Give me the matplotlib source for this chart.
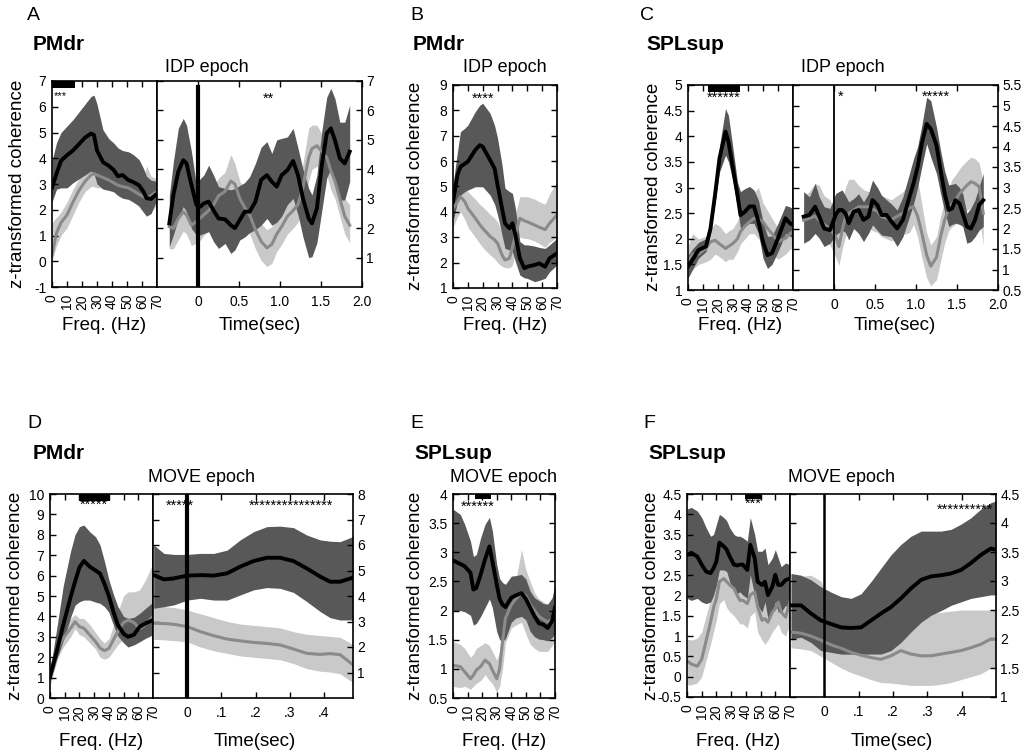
import matplotlib
matplotlib.use('Agg')
import matplotlib.pyplot as plt

plt.rcParams['font.family'] = ['Liberation Sans', 'DejaVu Sans']

DARK = '#585858'
LIGHT = '#c9c9c9'
GRAYLINE = '#8a8a8a'

# ---------------- Panel A (PMdr, IDP epoch) ----------------
A_f_hz = [0, 3, 6, 10, 14, 18, 22, 26, 28, 30, 34, 38, 41, 44, 47, 51, 54, 58, 61, 63, 66, 70]
A_f_black = [2.85, 3.4, 3.9, 4.12, 4.3, 4.55, 4.8, 4.96, 4.9, 4.3, 3.85, 3.7, 3.55, 3.3, 3.35, 3.15, 3.08, 2.95, 2.7, 2.45, 2.42, 2.62]
A_f_dhi = [3.9, 4.6, 5.0, 5.25, 5.5, 5.8, 6.1, 6.4, 6.45, 6.1, 5.1, 4.75, 4.6, 4.4, 4.3, 4.25, 4.15, 3.95, 3.6, 3.3, 3.15, 3.1]
A_f_dlo = [2.3, 2.8, 2.85, 2.85, 3.05, 3.2, 3.35, 3.5, 3.4, 3.0, 2.8, 2.75, 2.7, 2.55, 2.45, 2.4, 2.3, 2.15, 1.9, 1.75, 1.85, 2.4]
A_f_gray = [0.25, 1.1, 1.5, 1.8, 2.3, 2.75, 3.1, 3.35, 3.4, 3.35, 3.25, 3.15, 3.05, 2.95, 2.9, 2.85, 2.75, 2.6, 2.5, 2.45, 2.55, 2.7]
A_f_lhi = [1.5, 1.7, 1.9, 2.3, 2.8, 3.2, 3.5, 3.7, 3.7, 3.6, 3.5, 3.4, 3.3, 3.2, 3.15, 3.1, 3.05, 2.95, 3.2, 3.7, 3.3, 3.2]
A_f_llo = [0.0, 0.6, 1.0, 1.3, 1.8, 2.3, 2.7, 2.9, 2.9, 2.85, 2.85, 2.8, 2.75, 2.6, 2.5, 2.45, 2.35, 2.1, 1.9, 1.8, 1.9, 2.2]

A_t = [-0.35, -0.30, -0.24, -0.18, -0.14, -0.08, -0.02, 0.03, 0.07, 0.13, 0.19, 0.25, 0.33, 0.40, 0.45, 0.51, 0.57,
       0.63, 0.70, 0.77, 0.84, 0.90, 0.96, 1.02, 1.09, 1.16, 1.22, 1.28, 1.35, 1.39, 1.45, 1.51, 1.57, 1.62, 1.67,
       1.73, 1.79, 1.85]
A_t_black = [2.16, 3.13, 3.92, 4.31, 4.2, 3.47, 2.79, 2.73, 2.84, 2.9, 2.6, 2.33, 2.3, 2.1, 2.0, 2.28, 2.56, 2.56,
             2.9, 3.64, 3.8, 3.58, 3.41, 3.8, 3.97, 4.28, 3.8, 3.01, 2.33, 2.16, 2.67, 4.14, 5.22, 5.39, 4.99, 4.37,
             4.2, 4.6]
A_t_dhi = [3.1, 4.26, 5.39, 5.73, 5.5, 4.6, 3.47, 3.69, 3.8, 4.14, 3.8, 3.41, 3.35, 3.3, 3.35, 3.45, 3.55, 3.75,
           4.2, 4.75, 4.94, 4.54, 5.0, 5.05, 5.1, 5.39, 4.71, 4.0, 3.35, 3.13, 3.8, 5.3, 6.45, 6.75, 6.4, 5.6, 5.6,
           6.18]
A_t_dlo = [1.37, 1.77, 2.33, 2.73, 2.56, 1.99, 1.77, 1.77, 1.82, 1.88, 1.54, 1.31, 1.48, 1.14, 1.26, 1.6, 1.7,
           1.85, 1.95, 2.1, 2.33, 2.1, 2.2, 2.4, 2.8, 3.01, 2.45, 1.7, 1.0, 1.03, 1.5, 2.6, 3.7, 4.03, 3.5, 2.95,
           2.96, 3.58]
A_t_gray = [2.05, 1.99, 2.33, 2.56, 2.45, 2.1, 2.22, 2.35, 2.45, 2.6, 2.8, 3.1, 3.25, 3.6, 3.5, 3.0, 2.7, 2.45,
            1.95, 1.55, 1.33, 1.45, 1.8, 2.05, 2.4, 2.6, 2.8, 3.4, 4.4, 4.7, 4.8, 4.6, 4.4, 3.95, 3.6, 3.0, 2.4, 2.1]
A_t_lhi = [2.7, 2.6, 2.9, 3.15, 3.0, 2.7, 2.8, 2.95, 3.05, 3.2, 3.4, 3.7, 3.9, 4.5, 4.2, 3.6, 3.3, 3.05, 2.55,
           2.15, 1.95, 2.05, 2.4, 2.65, 3.0, 3.2, 3.4, 4.2, 5.4, 5.5, 5.5, 5.2, 5.0, 4.6, 4.2, 3.6, 3.0, 2.8]
A_t_llo = [1.3, 1.3, 1.6, 1.9, 1.8, 1.4, 1.5, 1.6, 1.75, 1.9, 2.1, 2.4, 2.55, 2.9, 2.8, 2.4, 2.1, 1.8, 1.3, 0.9,
           0.7, 0.8, 1.2, 1.45, 1.8, 2.0, 2.2, 2.7, 3.6, 4.0, 4.1, 4.0, 3.8, 3.3, 3.0, 2.4, 1.8, 1.5]

# ---------------- Panel B (PMdr, IDP epoch) ----------------
B_hz = [0, 3, 5, 8, 10, 15, 18, 20, 25, 28, 30, 33, 35, 38, 40, 42, 45, 48, 50, 55, 58, 62, 65, 70]
B_black = [4.4, 5.45, 5.78, 5.9, 5.98, 6.44, 6.63, 6.57, 6.04, 5.71, 5.06, 4.14, 3.55, 3.35, 3.55, 3.09, 2.17,
           1.78, 1.84, 1.91, 1.97, 1.84, 2.17, 2.37]
B_dhi = [5.06, 6.37, 7.16, 7.3, 7.42, 7.95, 8.2, 8.28, 7.88, 7.4, 6.9, 5.85, 4.93, 4.8, 4.73, 4.14, 2.83, 2.7,
         2.7, 2.65, 2.6, 2.56, 2.7, 2.96]
B_dlo = [3.61, 4.4, 4.66, 4.8, 4.86, 4.99, 4.99, 4.99, 4.66, 4.3, 3.88, 3.09, 2.56, 2.5, 2.43, 2.04, 1.51, 1.4,
         1.38, 1.25, 1.3, 1.38, 1.64, 1.91]
B_gray = [4.14, 4.4, 4.6, 4.4, 4.14, 3.75, 3.5, 3.35, 3.03, 2.9, 2.76, 2.3, 2.1, 2.17, 2.6, 3.1, 3.75, 3.65,
          3.61, 3.48, 3.4, 3.3, 3.55, 3.88]
B_lhi = [4.8, 4.95, 5.0, 4.9, 4.8, 4.5, 4.3, 4.2, 3.9, 3.75, 3.6, 3.2, 3.0, 3.0, 3.4, 3.9, 4.6, 4.6, 4.6, 4.5,
         4.4, 4.3, 4.7, 5.2]
B_llo = [3.4, 3.8, 4.0, 3.7, 3.4, 3.0, 2.75, 2.6, 2.3, 2.15, 2.0, 1.85, 1.8, 1.8, 1.9, 2.4, 3.0, 2.95, 2.95,
         2.85, 2.75, 2.6, 2.8, 3.0]

# ---------------- Panel C (SPLsup, IDP epoch) ----------------
C_f_hz = [0, 3, 7, 12, 15, 18, 21, 25, 27, 30, 33, 35, 38, 41, 44, 47, 50, 53, 56, 60, 65, 68, 70]
C_f_black = [1.46, 1.59, 1.78, 1.85, 2.2, 2.85, 3.57, 4.09, 3.89, 3.37, 2.85, 2.46, 2.53, 2.63, 2.63, 2.33, 1.94,
             1.68, 1.72, 2.01, 2.4, 2.3, 2.27]
C_f_dhi = [1.68, 1.8, 1.93, 2.0, 2.33, 3.0, 3.8, 4.54, 4.4, 3.76, 3.1, 2.92, 2.98, 3.02, 2.95, 2.75, 2.33, 2.05,
           2.05, 2.3, 2.65, 2.62, 2.59]
C_f_dlo = [1.23, 1.4, 1.62, 1.75, 2.11, 2.7, 3.3, 3.63, 3.5, 3.11, 2.6, 2.2, 2.25, 2.3, 2.3, 2.1, 1.62, 1.42, 1.5,
           1.75, 2.1, 2.05, 2.01]
C_f_gray = [1.55, 1.7, 1.7, 1.81, 1.94, 1.97, 1.9, 1.81, 1.85, 1.91, 2.0, 2.14, 2.25, 2.33, 2.4, 2.38, 2.33, 2.2,
            2.1, 1.94, 2.01, 2.1, 2.14]
C_f_lhi = [1.85, 2.1, 2.0, 2.05, 2.2, 2.3, 2.25, 2.1, 2.15, 2.2, 2.35, 2.5, 2.6, 2.7, 2.9, 3.0, 2.7, 2.55, 2.4,
           2.2, 2.4, 2.55, 2.6]
C_f_llo = [1.3, 1.4, 1.5, 1.55, 1.6, 1.7, 1.65, 1.55, 1.6, 1.6, 1.75, 1.9, 2.0, 2.1, 2.1, 2.0, 1.9, 1.8, 1.7, 1.6,
           1.7, 1.8, 1.8]

C_t = [-0.37, -0.30, -0.23, -0.18, -0.12, -0.05, 0.02, 0.06, 0.10, 0.14, 0.18, 0.24, 0.30, 0.36, 0.42, 0.47, 0.53,
       0.58, 0.64, 0.70, 0.77, 0.84, 0.92, 0.97, 1.02, 1.07, 1.13, 1.18, 1.25, 1.30, 1.35, 1.40, 1.44, 1.48, 1.53,
       1.57, 1.62, 1.67, 1.72, 1.77, 1.82]
C_t_black = [2.29, 2.33, 2.53, 2.29, 2.0, 1.96, 2.33, 2.45, 2.45, 2.37, 2.13, 2.41, 2.45, 2.21, 2.29, 2.69, 2.57,
             2.33, 2.33, 2.17, 2.0, 2.21, 2.77, 3.1, 3.5, 4.07, 4.55, 4.43, 4.03, 3.42, 2.85, 2.45, 2.49, 2.69,
             2.61, 2.37, 2.05, 2.0, 2.21, 2.57, 2.69]
C_t_dhi = [2.9, 2.77, 3.1, 2.77, 2.53, 2.49, 2.85, 2.9, 2.94, 2.8, 2.65, 2.73, 2.85, 2.65, 2.85, 3.18, 3.0, 2.81,
           2.7, 2.6, 2.45, 2.77, 3.34, 3.7, 4.0, 4.5, 5.2, 5.12, 4.47, 3.9, 3.4, 3.06, 3.08, 3.1, 3.0, 2.85, 2.37,
           2.5, 2.7, 3.02, 3.34]
C_t_dlo = [1.64, 1.72, 1.88, 1.76, 1.56, 1.64, 1.84, 1.9, 1.96, 1.9, 1.72, 2.0, 1.88, 1.68, 1.88, 2.09, 1.95, 1.84,
           1.82, 1.8, 1.56, 1.8, 2.29, 2.6, 3.0, 3.5, 4.07, 3.74, 3.34, 2.85, 2.4, 2.05, 2.1, 2.13, 2.1, 2.05, 1.64,
           1.68, 1.8, 1.96, 2.05]
C_t_gray = [2.2, 2.25, 2.3, 2.2, 2.1, 2.0, 1.8, 1.56, 1.96, 2.29, 2.37, 2.45, 2.53, 2.53, 2.53, 2.47, 2.42, 2.29,
            2.25, 2.21, 2.3, 2.37, 2.5, 2.53, 2.3, 1.9, 1.35, 1.08, 1.3, 1.8, 2.21, 2.49, 2.6, 2.69, 2.85, 2.94,
            3.05, 3.14, 3.1, 3.02, 2.37]
C_t_lhi = [2.8, 2.9, 3.1, 3.05, 2.8, 2.7, 2.4, 2.2, 2.6, 3.0, 3.2, 3.2, 3.05, 2.95, 2.9, 2.9, 2.85, 2.8, 2.75,
           2.7, 2.8, 2.9, 3.1, 3.5, 3.2, 2.6, 1.9, 1.6, 1.8, 2.3, 2.7, 3.0, 3.2, 3.3, 3.45, 3.55, 3.65, 3.74, 3.7,
           3.6, 3.1]
C_t_llo = [1.7, 1.75, 1.9, 1.8, 1.7, 1.6, 1.3, 1.1, 1.5, 1.8, 1.95, 2.0, 2.0, 2.0, 2.0, 1.95, 1.9, 1.8, 1.75,
           1.7, 1.75, 1.85, 1.9, 2.1, 1.8, 1.3, 0.8, 0.6, 0.75, 1.2, 1.65, 1.95, 2.05, 2.1, 2.25, 2.35, 2.45, 2.5,
           2.45, 2.3, 1.6]

# ---------------- Panel D (PMdr, MOVE epoch) ----------------
D_f_hz = [0, 5, 9, 14, 17, 20, 23, 27, 31, 34, 37, 40, 43, 46, 50, 53, 57, 61, 65, 70]
D_f_black = [1.05, 2.4, 3.58, 4.95, 5.7, 6.4, 6.72, 6.44, 6.25, 6.1, 5.6, 5.0, 4.25, 3.6, 3.15, 3.0, 3.1, 3.5,
             3.66, 3.82]
D_f_dhi = [1.3, 3.6, 5.5, 7.2, 8.0, 8.4, 8.48, 8.15, 7.9, 7.5, 6.7, 5.8, 5.1, 4.5, 4.0, 3.9, 3.95, 4.15, 4.4, 4.7]
D_f_dlo = [0.8, 2.0, 2.8, 3.95, 4.55, 4.72, 4.8, 4.8, 4.7, 4.64, 4.48, 4.2, 3.6, 3.05, 2.7, 2.5, 2.6, 2.76, 2.93,
           3.1]
D_f_gray = [1.13, 2.35, 2.93, 3.42, 3.74, 3.5, 3.42, 3.09, 2.76, 2.45, 2.32, 2.43, 2.84, 3.25, 3.7, 3.82, 3.7,
            3.4, 3.6, 4.0]
D_f_lhi = [1.7, 2.8, 3.3, 3.9, 4.1, 3.9, 3.9, 3.6, 3.2, 2.9, 2.7, 2.9, 3.5, 4.2, 5.0, 5.2, 5.2, 5.3, 5.8, 6.6]
D_f_llo = [0.6, 1.9, 2.5, 3.0, 3.4, 3.1, 3.0, 2.7, 2.4, 2.0, 1.9, 2.0, 2.3, 2.6, 2.9, 3.0, 3.1, 3.0, 3.2, 3.5]

D_t = [-0.098, -0.068, -0.039, 0.0, 0.039, 0.078, 0.117, 0.155, 0.194, 0.233, 0.272, 0.311, 0.35, 0.389, 0.418,
       0.447, 0.485]
D_t_black = [4.82, 4.65, 4.69, 4.8, 4.82, 4.8, 4.89, 5.15, 5.37, 5.5, 5.5, 5.37, 5.08, 4.76, 4.56, 4.56, 4.72]
D_t_dhi = [6.0, 5.67, 5.63, 5.63, 5.67, 5.67, 5.8, 6.2, 6.52, 6.72, 6.74, 6.68, 6.39, 6.2, 6.15, 6.13, 6.33]
D_t_dlo = [3.52, 3.58, 3.65, 3.84, 3.91, 3.84, 3.84, 4.04, 4.24, 4.33, 4.3, 4.14, 3.78, 3.39, 3.15, 3.06, 3.06]
D_t_gray = [2.93, 2.92, 2.89, 2.8, 2.6, 2.44, 2.31, 2.24, 2.18, 2.14, 2.08, 1.92, 1.75, 1.71, 1.74, 1.7, 1.3]
D_t_lhi = [3.6, 3.58, 3.55, 3.45, 3.3, 3.15, 3.0, 2.9, 2.85, 2.8, 2.75, 2.6, 2.5, 2.45, 2.42, 2.38, 2.1]
D_t_llo = [2.3, 2.28, 2.25, 2.2, 2.0, 1.85, 1.75, 1.65, 1.6, 1.55, 1.5, 1.35, 1.15, 1.05, 1.02, 0.95, 0.6]

# ---------------- Panel E (SPLsup, MOVE epoch) ----------------
E_hz = [0, 5, 8, 12, 14, 16, 19, 22, 25, 27, 30, 32, 34, 36, 40, 43, 47, 50, 53, 56, 59, 62, 65, 68, 70]
E_black = [2.86, 2.8, 2.76, 2.65, 2.36, 2.39, 2.62, 2.88, 3.1, 2.85, 2.45, 2.2, 2.1, 2.06, 2.22, 2.26, 2.3, 2.2,
           2.05, 1.9, 1.78, 1.76, 1.7, 1.82, 2.05]
E_dhi = [3.74, 3.65, 3.48, 3.19, 2.93, 2.96, 3.25, 3.48, 3.6, 3.37, 2.79, 2.55, 2.48, 2.45, 2.59, 2.6, 2.62, 2.54,
         2.33, 2.22, 2.17, 2.12, 2.11, 2.22, 2.45]
E_dlo = [2.0, 2.0, 1.98, 1.92, 1.75, 1.78, 1.9, 2.05, 2.2, 2.05, 1.64, 1.5, 1.47, 1.52, 1.8, 1.87, 1.9, 1.84,
         1.64, 1.55, 1.51, 1.5, 1.48, 1.54, 1.6]
E_gray = [1.06, 1.04, 0.95, 0.83, 0.89, 0.98, 1.04, 1.15, 1.09, 0.98, 0.83, 1.0, 1.47, 1.87, 2.1, 2.2, 2.3, 2.25,
          2.1, 2.0, 1.9, 1.85, 1.8, 1.85, 1.95]
E_lhi = [1.47, 1.42, 1.35, 1.2, 1.25, 1.35, 1.4, 1.45, 1.4, 1.3, 1.15, 1.3, 1.9, 2.25, 2.4, 2.5, 3.05, 2.7, 2.5,
         2.3, 2.2, 2.15, 2.1, 2.2, 2.4]
E_llo = [0.7, 0.68, 0.7, 0.65, 0.7, 0.75, 0.8, 0.9, 0.8, 0.75, 0.6, 0.7, 1.0, 1.45, 1.7, 1.75, 1.8, 1.6, 1.42,
         1.35, 1.3, 1.3, 1.3, 1.4, 1.5]

# ---------------- Panel F (SPLsup, MOVE epoch) ----------------
F_f_hz = [0, 3, 7, 10, 13, 16, 18, 20, 22, 25, 27, 29, 32, 34, 36, 38, 41, 43, 46, 48, 51, 53, 55, 58, 60, 62, 64,
          67, 70]
F_f_black = [3.0, 3.05, 2.96, 2.76, 2.59, 2.55, 2.67, 2.84, 3.3, 3.21, 3.13, 2.96, 2.76, 2.74, 2.76, 2.76, 2.63,
             3.25, 2.92, 2.34, 2.26, 2.34, 2.01, 2.22, 2.51, 2.26, 2.26, 2.38, 2.42]
F_f_dhi = [4.13, 4.17, 4.08, 3.92, 3.67, 3.46, 3.5, 3.75, 4.0, 3.92, 3.84, 3.67, 3.5, 3.46, 3.46, 3.42, 3.34, 3.92,
           3.5, 3.09, 3.09, 3.17, 2.76, 2.92, 3.13, 2.92, 2.71, 2.8, 2.76]
F_f_dlo = [1.93, 1.88, 1.93, 1.84, 1.8, 1.84, 2.0, 2.26, 2.63, 2.63, 2.59, 2.34, 2.09, 2.05, 2.09, 2.01, 1.93,
           2.51, 2.01, 1.76, 1.59, 1.84, 1.43, 1.59, 1.84, 1.59, 1.59, 1.76, 1.59]
F_f_gray = [0.39, 0.31, 0.26, 0.43, 0.89, 1.34, 1.7, 1.93, 2.34, 2.42, 2.34, 2.26, 2.17, 2.01, 1.88, 1.88, 1.8,
            2.01, 2.09, 1.72, 1.39, 1.43, 1.34, 1.59, 1.68, 1.84, 1.59, 1.47, 1.84]
F_f_lhi = [0.93, 0.9, 0.95, 1.1, 1.5, 1.9, 2.2, 2.4, 2.8, 2.9, 2.8, 2.7, 2.6, 2.5, 2.4, 2.3, 2.3, 2.5, 2.4, 2.2,
           1.9, 1.85, 1.8, 2.0, 2.1, 2.3, 2.0, 1.9, 2.3]
F_f_llo = [-0.2, -0.2, -0.15, 0.0, 0.4, 0.8, 1.1, 1.4, 1.8, 1.9, 1.7, 1.6, 1.5, 1.4, 1.3, 1.3, 1.2, 1.5, 1.6, 1.1,
           0.9, 0.8, 0.9, 1.1, 1.2, 1.3, 1.1, 1.0, 1.3]

F_t = [-0.097, -0.068, -0.039, -0.01, 0.019, 0.049, 0.078, 0.107, 0.136, 0.165, 0.194, 0.223, 0.252, 0.282, 0.311,
       0.34, 0.369, 0.398, 0.427, 0.456, 0.485, 0.5]
F_t_black = [2.58, 2.58, 2.44, 2.32, 2.26, 2.2, 2.19, 2.2, 2.32, 2.44, 2.55, 2.7, 2.87, 3.02, 3.08, 3.1, 3.13,
             3.19, 3.31, 3.45, 3.56, 3.54]
F_t_dhi = [3.13, 3.1, 3.02, 2.9, 2.81, 2.73, 2.7, 2.78, 2.99, 3.22, 3.45, 3.63, 3.77, 3.86, 3.86, 3.86, 3.89, 3.98,
           4.09, 4.24, 4.35, 4.38]
F_t_dlo = [2.0, 2.03, 1.94, 1.8, 1.77, 1.74, 1.74, 1.74, 1.74, 1.74, 1.8, 1.94, 2.12, 2.29, 2.41, 2.49, 2.58, 2.64,
           2.7, 2.73, 2.76, 2.76]
F_t_gray = [2.12, 2.1, 2.05, 1.98, 1.9, 1.84, 1.77, 1.72, 1.68, 1.65, 1.71, 1.8, 1.74, 1.71, 1.71, 1.74, 1.77,
            1.8, 1.85, 1.91, 2.0, 2.0]
F_t_lhi = [3.1, 3.08, 3.1, 3.0, 2.6, 2.42, 2.36, 2.3, 2.25, 2.2, 2.2, 2.3, 2.38, 2.42, 2.44, 2.46, 2.48, 2.5, 2.5,
           2.5, 2.5, 2.5]
F_t_llo = [1.85, 1.83, 1.8, 1.7, 1.6, 1.5, 1.42, 1.36, 1.3, 1.25, 1.24, 1.22, 1.2, 1.2, 1.2, 1.22, 1.25, 1.3, 1.35,
           1.4, 1.5, 1.5]

# significance bars (x range)
sig_bars = {'A': (0, 15.5), 'C': (13.5, 34.5), 'D': (20, 40.5), 'E': (15, 26), 'F': (39.5, 50.5)}

# ------------------------------------------------------------------
W, H = 1024, 751
fig = plt.figure(figsize=(W / 100, H / 100), dpi=100)


def rect(x0, y0, x1, y1):
    return [x0 / W, 1 - y1 / H, (x1 - x0) / W, (y1 - y0) / H]


def draw(ax, x, blk, dhi, dlo, gr, lhi, llo):
    ax.fill_between(x, llo, lhi, color=LIGHT, lw=0)
    ax.plot(x, gr, color=GRAYLINE, lw=2.2, solid_joinstyle='round')
    ax.fill_between(x, dlo, dhi, color=DARK, lw=0)
    ax.plot(x, blk, color='k', lw=2.8, solid_joinstyle='round')


def style(ax):
    for s in ax.spines.values():
        s.set_linewidth(1.2)
    ax.tick_params(direction='in', length=4, width=1, labelsize=10, pad=3)


def freq_axis(r, ylim, yticks, ylabels, standalone):
    ax = fig.add_axes(rect(*r))
    ax.set_xlim(0, 70)
    ax.set_ylim(*ylim)
    ax.set_xticks(range(0, 71, 10))
    ax.set_xticklabels([str(v) for v in range(0, 71, 10)], rotation=90)
    ax.set_yticks(yticks)
    ax.set_yticklabels(ylabels)
    style(ax)
    ax.tick_params(top=True, right=standalone)
    ax.tick_params(axis='x', pad=5)
    ax.tick_params(axis='y', pad=4)
    return ax


def time_axis(r, xlim, xticks, xlabels, ylim, yticks, ylabels):
    ax = fig.add_axes(rect(*r))
    ax.set_xlim(*xlim)
    ax.set_ylim(*ylim)
    ax.set_xticks(xticks)
    ax.set_xticklabels(xlabels)
    ax.set_yticks(yticks)
    ax.set_yticklabels(ylabels)
    style(ax)
    ax.tick_params(top=True, left=True, right=True, labelleft=False, labelright=True)
    ax.tick_params(axis='x', pad=6)
    return ax


def fmt(v):
    return ('%g' % v)


def sigbar(ax, key, ytop, h):
    x0, x1 = sig_bars[key]
    ax.fill_between([x0, x1], [ytop - h] * 2, [ytop] * 2, color='k', lw=0, zorder=5)


def stars(ax, x, y, s, fs=10.5):
    ax.text(x, y, s, ha='center', va='center', fontsize=fs, zorder=6)


def ftext(x, y, s, **kw):
    fig.text(x / W, 1 - y / H, s, **kw)


# ---- A ----
axA = freq_axis((52, 81, 157, 287), (-1, 7), range(-1, 8), [str(v) for v in range(-1, 8)], False)
draw(axA, A_f_hz, A_f_black, A_f_dhi, A_f_dlo, A_f_gray, A_f_lhi, A_f_llo)
sigbar(axA, 'A', 7, 0.28)
stars(axA, 5.5, 6.42, '***', 8)
axAt = time_axis((157, 81, 362, 287), (-0.5, 2.0), [0, 0.5, 1.0, 1.5, 2.0], ['0', '0.5', '1.0', '1.5', '2.0'],
                 (0, 7), range(1, 8), [str(v) for v in range(1, 8)])
draw(axAt, A_t, A_t_black, A_t_dhi, A_t_dlo, A_t_gray, A_t_lhi, A_t_llo)
axAt.axvline(0, ymin=0, ymax=0.972, color='k', lw=3)
stars(axAt, 0.86, 6.4, '**')

# ---- B ----
axB = freq_axis((453, 85, 557, 288), (1, 9), range(1, 10), [str(v) for v in range(1, 10)], True)
draw(axB, B_hz, B_black, B_dhi, B_dlo, B_gray, B_lhi, B_llo)
stars(axB, 20.5, 8.45, '****')

# ---- C ----
c_yt = [1 + 0.5 * i for i in range(9)]
axC = freq_axis((688, 85, 793, 290), (1, 5), c_yt, [fmt(v) for v in c_yt], False)
draw(axC, C_f_hz, C_f_black, C_f_dhi, C_f_dlo, C_f_gray, C_f_lhi, C_f_llo)
sigbar(axC, 'C', 5, 0.14)
stars(axC, 24, 4.76, '******')
c_rt = [0.5 + 0.5 * i for i in range(11)]
axCt = time_axis((793, 85, 998, 290), (-0.5, 2.0), [0, 0.5, 1.0, 1.5, 2.0], ['0', '0.5', '1.0', '1.5', '2.0'],
                 (0.5, 5.5), c_rt, [fmt(v) for v in c_rt])
draw(axCt, C_t, C_t_black, C_t_dhi, C_t_dlo, C_t_gray, C_t_lhi, C_t_llo)
axCt.axvline(0, color='k', lw=1.3)
stars(axCt, 0.08, 5.22, '*')
stars(axCt, 1.24, 5.22, '*****')

# ---- D ----
axD = freq_axis((50, 494, 153, 698), (0, 10), range(0, 11), [str(v) for v in range(0, 11)], False)
draw(axD, D_f_hz, D_f_black, D_f_dhi, D_f_dlo, D_f_gray, D_f_lhi, D_f_llo)
sigbar(axD, 'D', 10, 0.32)
stars(axD, 30, 9.45, '*****')
axDt = time_axis((153, 494, 353, 698), (-0.1, 0.485), [0, 0.1, 0.2, 0.3, 0.4], ['0', '.1', '.2', '.3', '.4'],
                 (0, 8), range(1, 9), [str(v) for v in range(1, 9)])
draw(axDt, D_t, D_t_black, D_t_dhi, D_t_dlo, D_t_gray, D_t_lhi, D_t_llo)
axDt.axvline(0, color='k', lw=3)
stars(axDt, -0.02, 7.55, '*****')
stars(axDt, 0.305, 7.55, '***************')

# ---- E ----
e_yt = [0.5 + 0.5 * i for i in range(8)]
axE = freq_axis((453, 494, 555, 698), (0.5, 4), e_yt, [fmt(v) for v in e_yt], True)
draw(axE, E_hz, E_black, E_dhi, E_dlo, E_gray, E_lhi, E_llo)
sigbar(axE, 'E', 4, 0.09)
stars(axE, 17, 3.78, '******')

# ---- F ----
f_yt = [-0.5 + 0.5 * i for i in range(11)]
axF = freq_axis((687, 494, 790, 697), (-0.5, 4.5), f_yt, [fmt(v) for v in f_yt], False)
draw(axF, F_f_hz, F_f_black, F_f_dhi, F_f_dlo, F_f_gray, F_f_lhi, F_f_llo)
sigbar(axF, 'F', 4.5, 0.13)
stars(axF, 45, 4.25, '***')
f_rt = [1 + 0.5 * i for i in range(8)]
axFt = time_axis((790, 494, 996, 697), (-0.1, 0.5), [0, 0.1, 0.2, 0.3, 0.4], ['0', '.1', '.2', '.3', '.4'],
                 (1, 4.5), f_rt, [fmt(v) for v in f_rt])
draw(axFt, F_t, F_t_black, F_t_dhi, F_t_dlo, F_t_gray, F_t_lhi, F_t_llo)
axFt.axvline(0, color='k', lw=1.8)
stars(axFt, 0.41, 4.22, '**********')

# ---- texts ----
LET = dict(fontsize=14, ha='left', va='center')
REG = dict(fontsize=15, fontweight='bold', ha='left', va='center')
EPO = dict(fontsize=13, ha='center', va='center')
LAB = dict(fontsize=13.5, ha='center', va='center')
YL = dict(fontsize=13.5, ha='center', va='center', rotation=90)

for x, letter in [(27, 'A'), (410, 'B'), (640, 'C')]:
    ftext(x, 16, letter, **LET)
for x, letter in [(27, 'D'), (410, 'E'), (643, 'F')]:
    ftext(x, 424, letter, **LET)
ftext(33, 45, 'PMdr', **REG)
ftext(413, 45, 'PMdr', **REG)
ftext(646, 45, 'SPLsup', **REG)
ftext(33, 453, 'PMdr', **REG)
ftext(414, 453, 'SPLsup', **REG)
ftext(648, 453, 'SPLsup', **REG)
ftext(207, 67, 'IDP epoch', **EPO)
ftext(505, 67, 'IDP epoch', **EPO)
ftext(843, 67, 'IDP epoch', **EPO)
ftext(202, 477, 'MOVE epoch', **EPO)
ftext(504, 477, 'MOVE epoch', **EPO)
ftext(841, 477, 'MOVE epoch', **EPO)

for x in (104, 505, 740):
    ftext(x, 326, 'Freq. (Hz)', **LAB)
for x in (101, 504, 738):
    ftext(x, 741, 'Freq. (Hz)', **LAB)
ftext(260, 326, 'Time(sec)', **LAB)
ftext(895, 326, 'Time(sec)', **LAB)
ftext(255, 741, 'Time(sec)', **LAB)
ftext(892, 741, 'Time(sec)', **LAB)

for x, y in [(18, 184), (416, 186), (653, 187), (16, 596), (415, 596), (651, 596)]:
    ftext(x, y, 'z-transformed coherence', **YL)

fig.savefig('out.png', dpi=100)
